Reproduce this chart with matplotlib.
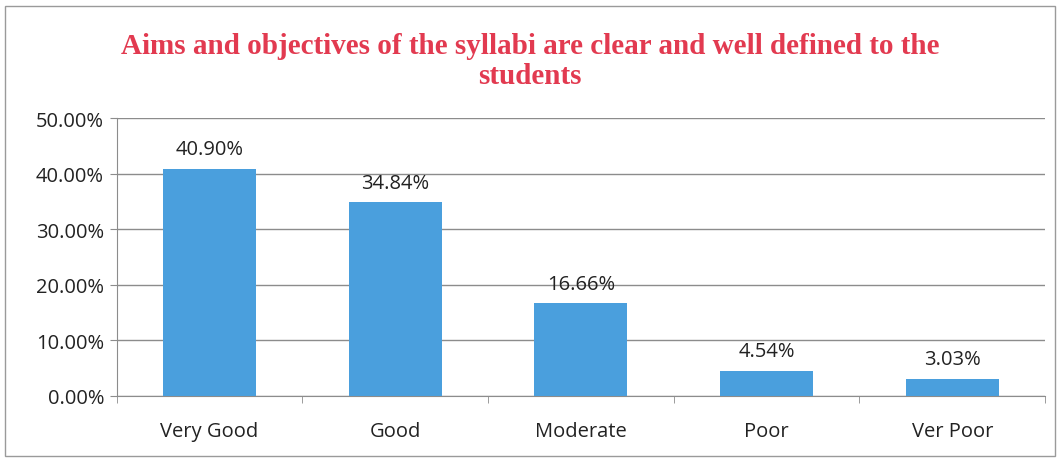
import matplotlib.pyplot as plt
from matplotlib.patches import Rectangle
from matplotlib.ticker import FuncFormatter

categories = ['Very Good', 'Good', 'Moderate', 'Poor', 'Ver Poor']
values = [40.90, 34.84, 16.66, 4.54, 3.03]
y_ticks = [0, 10, 20, 30, 40, 50]

bar_color = '#4A9FDD'
title_color = '#E23A50'

fig = plt.figure(figsize=(10.6, 4.64), dpi=100)
ax = fig.add_axes([0.110, 0.1444, 0.876, 0.5991])

x = range(len(categories))
ax.bar(x, values, width=0.5, color=bar_color, zorder=3)

# data labels above each bar
for xi, v in zip(x, values):
    ax.annotate(f'{v:.2f}%', (xi, v), xytext=(0, 7), textcoords='offset points',
                ha='center', va='bottom', fontsize=14.5, family='Open Sans', color='#222222')

ax.set_xlim(-0.5, len(categories) - 0.5)
ax.set_ylim(0, 50)
ax.set_yticks(y_ticks)
ax.yaxis.set_major_formatter(FuncFormatter(lambda v, p: f'{v:.2f}%'))
ax.set_xticks(list(x))
ax.set_xticklabels(categories)
ax.set_xticks([i + 0.5 for i in range(-1, len(categories))], minor=True)

ax.grid(axis='y', color='#8c8c8c', linewidth=1, zorder=0)
for side in ['top', 'right']:
    ax.spines[side].set_visible(False)
ax.spines['left'].set_color('#8c8c8c')
ax.spines['bottom'].set_color('#8c8c8c')

ax.tick_params(axis='x', which='major', length=0, pad=18)
ax.tick_params(axis='x', which='minor', length=5, color='#8c8c8c')
ax.tick_params(axis='y', length=5, color='#8c8c8c', pad=4)
for lbl in ax.get_xticklabels() + ax.get_yticklabels():
    lbl.set_fontfamily('Open Sans')
    lbl.set_fontsize(14.5)
    lbl.set_color('#222222')

fig.text(0.5, 0.868, 'Aims and objectives of the syllabi are clear and well defined to the\nstudents',
         ha='center', va='center', fontsize=21, fontweight='bold', family='Liberation Serif',
         color=title_color, linespacing=1.15)

# outer chart frame
fig.patches.append(Rectangle((0.005, 0.015), 0.99, 0.97, transform=fig.transFigure,
                             fill=False, edgecolor='#9a9a9a', linewidth=1))

fig.savefig('out.png', dpi=100)
